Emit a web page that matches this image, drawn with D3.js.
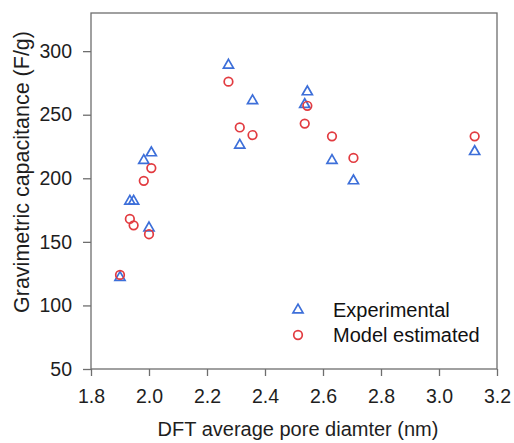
<!DOCTYPE html>
<html>
<head>
<meta charset="utf-8">
<script src="https://cdn.jsdelivr.net/npm/d3@7"></script>
<style>
  html, body { margin: 0; padding: 0; background: #fff; }
  svg { display: block; font-family: Arial, "Liberation Sans", sans-serif; }
</style>
</head>
<body>
<svg id="chart" width="514" height="443"></svg>
<script>
// Pore diameter (nm) for each sample
const poreDiameter = [1.90, 1.934, 1.947, 1.982, 2.008, 2.000, 2.274, 2.313, 2.357, 2.546, 2.537, 2.631, 2.705, 3.123];
// Measured gravimetric capacitance (F/g)
const experimental = [122, 182, 182, 214, 220, 161, 289, 226, 261, 268, 258, 214, 198, 221];
// Capacitance predicted by the model (F/g)
const modelEstimated = [124, 168, 163, 198, 208, 156, 276, 240, 234, 257, 243, 233, 216, 233];

const xTicks = [1.8, 2.0, 2.2, 2.4, 2.6, 2.8, 3.0, 3.2];
const yTicks = [50, 100, 150, 200, 250, 300];

const seriesNames = ["Experimental", "Model estimated"];
const seriesColors = ["#3d6fd9", "#e23b40"];

const svg = d3.select("#chart");
const plot = { left: 91, right: 497, top: 13, bottom: 369 };

const x = d3.scaleLinear().domain([1.8, 3.2]).range([plot.left, plot.right]);
const y = d3.scaleLinear().domain([50, 330]).range([plot.bottom, plot.top]);

const axisColor = "#6e6e6e";
const textColor = "#1e1e1e";

// plot frame
svg.append("rect")
  .attr("x", plot.left).attr("y", plot.top)
  .attr("width", plot.right - plot.left).attr("height", plot.bottom - plot.top)
  .attr("fill", "none").attr("stroke", axisColor).attr("stroke-width", 1.3);

// x axis
const gx = svg.append("g")
  .attr("transform", `translate(0,${plot.bottom})`)
  .call(d3.axisBottom(x).tickValues(xTicks).tickFormat(d3.format(".1f"))
    .tickSize(7).tickSizeOuter(0).tickPadding(13));
gx.select(".domain").remove();
gx.selectAll(".tick line").attr("stroke", axisColor).attr("stroke-width", 1.3);
gx.selectAll(".tick text").attr("fill", textColor).attr("font-size", 19.5)
  .attr("font-family", "Arial, 'Liberation Sans', sans-serif");

// y axis
const gy = svg.append("g")
  .attr("transform", `translate(${plot.left},0)`)
  .call(d3.axisLeft(y).tickValues(yTicks).tickSize(8).tickSizeOuter(0).tickPadding(11));
gy.select(".domain").remove();
gy.selectAll(".tick line").attr("stroke", axisColor).attr("stroke-width", 1.3);
gy.selectAll(".tick text").attr("fill", textColor).attr("font-size", 19.5)
  .attr("font-family", "Arial, 'Liberation Sans', sans-serif");

// axis titles
svg.append("text")
  .attr("x", (plot.left + plot.right) / 2 + 4).attr("y", 436)
  .attr("text-anchor", "middle").attr("font-size", 20).attr("fill", textColor)
  .text("DFT average pore diamter (nm)");

svg.append("text")
  .attr("transform", `translate(29,172) rotate(-90)`)
  .attr("text-anchor", "middle").attr("font-size", 21.5).attr("fill", textColor)
  .text("Gravimetric capacitance (F/g)");

// markers
const tri = d3.symbol().type(d3.symbolTriangle).size(44);

svg.append("g").selectAll("path")
  .data(poreDiameter.map((d, i) => [d, experimental[i]]))
  .join("path")
  .attr("d", tri)
  .attr("transform", d => `translate(${x(d[0])},${y(d[1])})`)
  .attr("fill", "none").attr("stroke", seriesColors[0]).attr("stroke-width", 1.7);

svg.append("g").selectAll("circle")
  .data(poreDiameter.map((d, i) => [d, modelEstimated[i]]))
  .join("circle")
  .attr("cx", d => x(d[0])).attr("cy", d => y(d[1])).attr("r", 4.3)
  .attr("fill", "none").attr("stroke", seriesColors[1]).attr("stroke-width", 1.7);

// legend
const legend = svg.append("g");
const legendRows = [310, 335];
legend.append("path").attr("d", tri)
  .attr("transform", `translate(298,${legendRows[0]})`)
  .attr("fill", "none").attr("stroke", seriesColors[0]).attr("stroke-width", 1.7);
legend.append("circle").attr("cx", 298).attr("cy", legendRows[1]).attr("r", 4.3)
  .attr("fill", "none").attr("stroke", seriesColors[1]).attr("stroke-width", 1.7);
seriesNames.forEach((name, i) => {
  legend.append("text").attr("x", 333).attr("y", legendRows[i]).attr("dy", "0.35em")
    .attr("font-size", 20).attr("fill", "#111").text(name);
});
</script>
</body>
</html>
